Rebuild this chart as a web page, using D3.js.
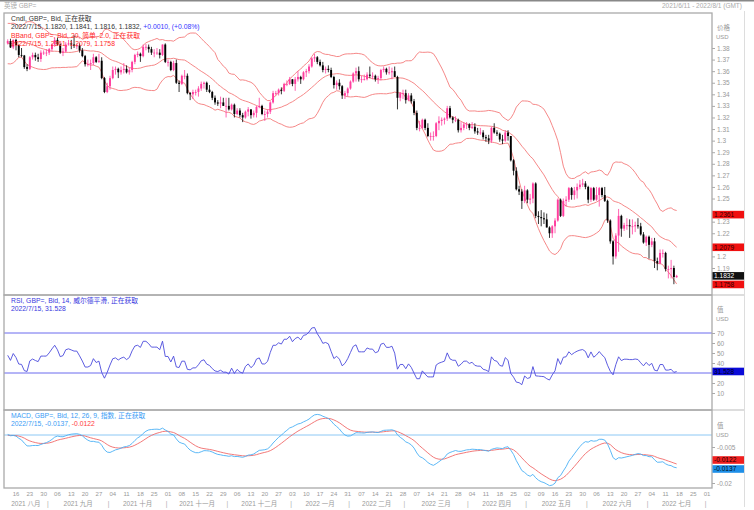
<!DOCTYPE html>
<html><head><meta charset="utf-8">
<script src="https://cdn.jsdelivr.net/npm/d3@7"></script>
<style>
body{margin:0;background:#fff;}
svg{display:block;font-family:"Liberation Sans","Noto Sans CJK SC",sans-serif;}
</style></head><body>
<svg id="chart" width="754" height="510"></svg>
<script>
// ---------------- DATA ----------------
// Daily GBP= bid candles [date, open, high, low, close]; data loaded from 2021/6/11, window shown from 2021/8/11
const ohlc = [
["2021-06-11",1.4180,1.4190,1.4075,1.4110],["2021-06-14",1.4110,1.4135,1.4070,1.4110],["2021-06-15",1.4110,1.4135,1.4060,1.4090],
["2021-06-16",1.4090,1.4120,1.4000,1.4010],["2021-06-17",1.4010,1.4010,1.3905,1.3920],["2021-06-18",1.3920,1.3940,1.3790,1.3800],
["2021-06-21",1.3800,1.3920,1.3785,1.3910],["2021-06-22",1.3910,1.3960,1.3870,1.3930],["2021-06-23",1.3930,1.3975,1.3910,1.3960],
["2021-06-24",1.3960,1.3990,1.3880,1.3890],["2021-06-25",1.3890,1.3910,1.3860,1.3880],["2021-06-28",1.3880,1.3940,1.3870,1.3880],
["2021-06-29",1.3880,1.3900,1.3820,1.3830],["2021-06-30",1.3830,1.3850,1.3790,1.3830],
["2021-07-01",1.3830,1.3840,1.3760,1.3765],["2021-07-02",1.3765,1.3850,1.3730,1.3830],["2021-07-05",1.3830,1.3890,1.3820,1.3840],
["2021-07-06",1.3840,1.3910,1.3760,1.3800],["2021-07-07",1.3800,1.3840,1.3770,1.3795],["2021-07-08",1.3795,1.3820,1.3730,1.3780],
["2021-07-09",1.3780,1.3900,1.3770,1.3890],["2021-07-12",1.3890,1.3900,1.3830,1.3860],["2021-07-13",1.3860,1.3910,1.3790,1.3800],
["2021-07-14",1.3800,1.3880,1.3790,1.3840],["2021-07-15",1.3840,1.3860,1.3790,1.3830],["2021-07-16",1.3830,1.3840,1.3750,1.3760],
["2021-07-19",1.3760,1.3770,1.3660,1.3690],["2021-07-20",1.3690,1.3700,1.3570,1.3640],["2021-07-21",1.3640,1.3740,1.3600,1.3730],
["2021-07-22",1.3730,1.3790,1.3720,1.3760],["2021-07-23",1.3760,1.3780,1.3730,1.3750],["2021-07-26",1.3750,1.3840,1.3730,1.3830],
["2021-07-27",1.3830,1.3900,1.3810,1.3890],["2021-07-28",1.3890,1.3960,1.3840,1.3950],["2021-07-29",1.3950,1.3985,1.3920,1.3960],
["2021-07-30",1.3960,1.3980,1.3890,1.3900],
["2021-08-02",1.3900,1.3930,1.3870,1.3890],["2021-08-03",1.3890,1.3930,1.3860,1.3920],["2021-08-04",1.3920,1.3960,1.3880,1.3930],
["2021-08-05",1.3930,1.3950,1.3880,1.3910],["2021-08-06",1.3910,1.3920,1.3860,1.3870],["2021-08-09",1.3870,1.3890,1.3840,1.3860],
["2021-08-10",1.3860,1.3870,1.3810,1.3840],["2021-08-11",1.3840,1.3875,1.3830,1.3860],["2021-08-12",1.3860,1.3880,1.3800,1.3805],
["2021-08-13",1.3805,1.3875,1.3790,1.3870],["2021-08-16",1.3870,1.3880,1.3780,1.3825],["2021-08-17",1.3825,1.3830,1.3720,1.3740],
["2021-08-18",1.3740,1.3800,1.3720,1.3735],["2021-08-19",1.3735,1.3740,1.3620,1.3635],["2021-08-20",1.3635,1.3660,1.3600,1.3620],
["2021-08-23",1.3620,1.3730,1.3610,1.3720],["2021-08-24",1.3720,1.3760,1.3700,1.3740],["2021-08-25",1.3740,1.3760,1.3690,1.3720],
["2021-08-26",1.3720,1.3750,1.3680,1.3705],["2021-08-27",1.3705,1.3780,1.3680,1.3760],["2021-08-30",1.3760,1.3780,1.3740,1.3760],
["2021-08-31",1.3760,1.3790,1.3730,1.3760],
["2021-09-01",1.3760,1.3800,1.3740,1.3790],["2021-09-02",1.3790,1.3840,1.3770,1.3830],["2021-09-03",1.3830,1.3890,1.3810,1.3870],
["2021-09-06",1.3870,1.3890,1.3820,1.3830],["2021-09-07",1.3830,1.3840,1.3750,1.3760],["2021-09-08",1.3760,1.3800,1.3730,1.3770],
["2021-09-09",1.3770,1.3850,1.3760,1.3830],["2021-09-10",1.3830,1.3870,1.3820,1.3840],["2021-09-13",1.3840,1.3870,1.3790,1.3830],
["2021-09-14",1.3830,1.3910,1.3800,1.3820],["2021-09-15",1.3820,1.3840,1.3790,1.3820],["2021-09-16",1.3820,1.3840,1.3760,1.3780],
["2021-09-17",1.3780,1.3800,1.3720,1.3730],["2021-09-20",1.3730,1.3740,1.3640,1.3660],["2021-09-21",1.3660,1.3700,1.3640,1.3660],
["2021-09-22",1.3660,1.3700,1.3610,1.3670],["2021-09-23",1.3670,1.3750,1.3650,1.3720],["2021-09-24",1.3720,1.3730,1.3670,1.3680],
["2021-09-27",1.3680,1.3750,1.3670,1.3690],["2021-09-28",1.3690,1.3720,1.3530,1.3540],["2021-09-29",1.3540,1.3550,1.3410,1.3420],
["2021-09-30",1.3420,1.3500,1.3410,1.3470],
["2021-10-01",1.3470,1.3560,1.3440,1.3540],["2021-10-04",1.3540,1.3640,1.3530,1.3610],["2021-10-05",1.3610,1.3640,1.3570,1.3620],
["2021-10-06",1.3620,1.3630,1.3540,1.3590],["2021-10-07",1.3590,1.3640,1.3570,1.3610],["2021-10-08",1.3610,1.3670,1.3580,1.3620],
["2021-10-11",1.3620,1.3650,1.3580,1.3590],["2021-10-12",1.3590,1.3630,1.3570,1.3610],["2021-10-13",1.3610,1.3690,1.3590,1.3680],
["2021-10-14",1.3680,1.3750,1.3660,1.3740],["2021-10-15",1.3740,1.3770,1.3720,1.3750],["2021-10-18",1.3750,1.3760,1.3680,1.3730],
["2021-10-19",1.3730,1.3830,1.3720,1.3810],["2021-10-20",1.3810,1.3835,1.3780,1.3810],["2021-10-21",1.3810,1.3830,1.3760,1.3790],
["2021-10-22",1.3790,1.3810,1.3740,1.3760],["2021-10-25",1.3760,1.3790,1.3720,1.3760],["2021-10-26",1.3760,1.3800,1.3740,1.3760],
["2021-10-27",1.3760,1.3790,1.3710,1.3740],["2021-10-28",1.3740,1.3830,1.3730,1.3830],["2021-10-29",1.3830,1.3840,1.3670,1.3680],
["2021-11-01",1.3680,1.3700,1.3640,1.3680],["2021-11-02",1.3680,1.3690,1.3600,1.3610],["2021-11-03",1.3610,1.3690,1.3600,1.3670],
["2021-11-04",1.3670,1.3700,1.3490,1.3500],["2021-11-05",1.3500,1.3520,1.3420,1.3490],["2021-11-08",1.3490,1.3570,1.3480,1.3560],
["2021-11-09",1.3560,1.3610,1.3530,1.3560],["2021-11-10",1.3560,1.3580,1.3400,1.3410],["2021-11-11",1.3410,1.3420,1.3350,1.3400],
["2021-11-12",1.3400,1.3440,1.3360,1.3420],["2021-11-15",1.3420,1.3440,1.3390,1.3420],["2021-11-16",1.3420,1.3470,1.3380,1.3450],
["2021-11-17",1.3450,1.3510,1.3430,1.3490],["2021-11-18",1.3490,1.3510,1.3450,1.3500],["2021-11-19",1.3500,1.3510,1.3420,1.3440],
["2021-11-22",1.3440,1.3480,1.3410,1.3420],["2021-11-23",1.3420,1.3430,1.3350,1.3370],["2021-11-24",1.3370,1.3390,1.3310,1.3330],
["2021-11-25",1.3330,1.3350,1.3300,1.3320],["2021-11-26",1.3320,1.3380,1.3280,1.3330],["2021-11-29",1.3330,1.3370,1.3300,1.3300],
["2021-11-30",1.3300,1.3370,1.3200,1.3300],
["2021-12-01",1.3300,1.3370,1.3260,1.3270],["2021-12-02",1.3270,1.3320,1.3260,1.3310],["2021-12-03",1.3310,1.3320,1.3200,1.3230],
["2021-12-06",1.3230,1.3280,1.3220,1.3260],["2021-12-07",1.3260,1.3280,1.3200,1.3220],["2021-12-08",1.3220,1.3240,1.3160,1.3200],
["2021-12-09",1.3200,1.3260,1.3190,1.3250],["2021-12-10",1.3250,1.3290,1.3210,1.3270],["2021-12-13",1.3270,1.3270,1.3190,1.3220],
["2021-12-14",1.3220,1.3260,1.3200,1.3240],["2021-12-15",1.3240,1.3300,1.3200,1.3290],["2021-12-16",1.3290,1.3370,1.3280,1.3300],
["2021-12-17",1.3300,1.3310,1.3220,1.3230],["2021-12-20",1.3230,1.3260,1.3170,1.3230],["2021-12-21",1.3230,1.3270,1.3200,1.3250],
["2021-12-22",1.3250,1.3340,1.3230,1.3330],["2021-12-23",1.3330,1.3430,1.3320,1.3410],["2021-12-24",1.3410,1.3430,1.3390,1.3410],
["2021-12-27",1.3410,1.3450,1.3390,1.3440],["2021-12-28",1.3440,1.3460,1.3400,1.3430],["2021-12-29",1.3430,1.3500,1.3420,1.3490],
["2021-12-30",1.3490,1.3520,1.3470,1.3490],["2021-12-31",1.3490,1.3550,1.3480,1.3530],
["2022-01-03",1.3530,1.3530,1.3470,1.3490],["2022-01-04",1.3490,1.3550,1.3430,1.3530],["2022-01-05",1.3530,1.3600,1.3510,1.3550],
["2022-01-06",1.3550,1.3560,1.3490,1.3530],["2022-01-07",1.3530,1.3600,1.3520,1.3590],["2022-01-10",1.3590,1.3620,1.3550,1.3600],
["2022-01-11",1.3600,1.3660,1.3580,1.3640],["2022-01-12",1.3640,1.3720,1.3630,1.3710],["2022-01-13",1.3710,1.3750,1.3680,1.3720],
["2022-01-14",1.3720,1.3730,1.3660,1.3680],["2022-01-17",1.3680,1.3700,1.3640,1.3650],["2022-01-18",1.3650,1.3680,1.3590,1.3610],
["2022-01-19",1.3610,1.3640,1.3580,1.3620],["2022-01-20",1.3620,1.3650,1.3590,1.3610],["2022-01-21",1.3610,1.3630,1.3540,1.3550],
["2022-01-24",1.3550,1.3560,1.3450,1.3480],["2022-01-25",1.3480,1.3520,1.3440,1.3500],["2022-01-26",1.3500,1.3530,1.3440,1.3470],
["2022-01-27",1.3470,1.3480,1.3360,1.3390],["2022-01-28",1.3390,1.3430,1.3360,1.3410],["2022-01-31",1.3410,1.3460,1.3380,1.3450],
["2022-02-01",1.3450,1.3520,1.3440,1.3510],["2022-02-02",1.3510,1.3590,1.3500,1.3580],["2022-02-03",1.3580,1.3630,1.3510,1.3600],
["2022-02-04",1.3600,1.3640,1.3510,1.3530],["2022-02-07",1.3530,1.3560,1.3500,1.3530],["2022-02-08",1.3530,1.3570,1.3520,1.3530],
["2022-02-09",1.3530,1.3590,1.3520,1.3570],["2022-02-10",1.3570,1.3640,1.3540,1.3560],["2022-02-11",1.3560,1.3590,1.3530,1.3560],
["2022-02-14",1.3560,1.3570,1.3510,1.3530],["2022-02-15",1.3530,1.3560,1.3490,1.3540],["2022-02-16",1.3540,1.3620,1.3520,1.3610],
["2022-02-17",1.3610,1.3640,1.3590,1.3620],["2022-02-18",1.3620,1.3630,1.3570,1.3590],["2022-02-21",1.3590,1.3640,1.3570,1.3590],
["2022-02-22",1.3590,1.3630,1.3530,1.3600],["2022-02-23",1.3600,1.3640,1.3550,1.3550],["2022-02-24",1.3550,1.3560,1.3270,1.3370],
["2022-02-25",1.3370,1.3420,1.3340,1.3410],["2022-02-28",1.3410,1.3440,1.3360,1.3410],
["2022-03-01",1.3410,1.3440,1.3320,1.3350],["2022-03-02",1.3350,1.3410,1.3340,1.3390],["2022-03-03",1.3390,1.3410,1.3320,1.3340],
["2022-03-04",1.3340,1.3360,1.3220,1.3240],["2022-03-07",1.3240,1.3260,1.3090,1.3110],["2022-03-08",1.3110,1.3170,1.3080,1.3110],
["2022-03-09",1.3110,1.3190,1.3100,1.3180],["2022-03-10",1.3180,1.3190,1.3090,1.3110],["2022-03-11",1.3110,1.3150,1.3030,1.3040],
["2022-03-14",1.3040,1.3070,1.3000,1.3040],["2022-03-15",1.3040,1.3080,1.3000,1.3040],["2022-03-16",1.3040,1.3160,1.3030,1.3150],
["2022-03-17",1.3150,1.3210,1.3090,1.3170],["2022-03-18",1.3170,1.3200,1.3130,1.3180],["2022-03-21",1.3180,1.3200,1.3140,1.3190],
["2022-03-22",1.3190,1.3300,1.3170,1.3280],["2022-03-23",1.3280,1.3300,1.3190,1.3200],["2022-03-24",1.3200,1.3210,1.3150,1.3180],
["2022-03-25",1.3180,1.3210,1.3160,1.3180],["2022-03-28",1.3180,1.3190,1.3070,1.3090],["2022-03-29",1.3090,1.3160,1.3070,1.3110],
["2022-03-30",1.3110,1.3160,1.3090,1.3140],["2022-03-31",1.3140,1.3160,1.3100,1.3140],
["2022-04-01",1.3140,1.3150,1.3090,1.3110],["2022-04-04",1.3110,1.3160,1.3100,1.3120],["2022-04-05",1.3120,1.3150,1.3060,1.3080],
["2022-04-06",1.3080,1.3110,1.3050,1.3070],["2022-04-07",1.3070,1.3110,1.3050,1.3070],["2022-04-08",1.3070,1.3090,1.3010,1.3030],
["2022-04-11",1.3030,1.3050,1.2990,1.3020],["2022-04-12",1.3020,1.3050,1.2970,1.3000],["2022-04-13",1.3000,1.3120,1.2980,1.3110],
["2022-04-14",1.3110,1.3150,1.3060,1.3070],["2022-04-15",1.3070,1.3090,1.3040,1.3060],["2022-04-18",1.3060,1.3070,1.2990,1.3010],
["2022-04-19",1.3010,1.3050,1.2970,1.3000],["2022-04-20",1.3000,1.3090,1.2990,1.3070],["2022-04-21",1.3070,1.3090,1.3000,1.3040],
["2022-04-22",1.3040,1.3040,1.2820,1.2830],["2022-04-25",1.2830,1.2840,1.2700,1.2740],["2022-04-26",1.2740,1.2770,1.2570,1.2580],
["2022-04-27",1.2580,1.2610,1.2530,1.2560],["2022-04-28",1.2560,1.2580,1.2410,1.2480],["2022-04-29",1.2480,1.2610,1.2460,1.2570],
["2022-05-02",1.2570,1.2580,1.2460,1.2490],["2022-05-03",1.2490,1.2540,1.2450,1.2500],["2022-05-04",1.2500,1.2640,1.2460,1.2630],
["2022-05-05",1.2630,1.2640,1.2330,1.2350],["2022-05-06",1.2350,1.2390,1.2280,1.2340],["2022-05-09",1.2340,1.2400,1.2260,1.2330],
["2022-05-10",1.2330,1.2380,1.2280,1.2320],["2022-05-11",1.2320,1.2370,1.2250,1.2250],["2022-05-12",1.2250,1.2260,1.2160,1.2200],
["2022-05-13",1.2200,1.2270,1.2160,1.2260],["2022-05-16",1.2260,1.2330,1.2200,1.2310],["2022-05-17",1.2310,1.2500,1.2300,1.2490],
["2022-05-18",1.2490,1.2500,1.2340,1.2350],["2022-05-19",1.2350,1.2500,1.2340,1.2480],["2022-05-20",1.2480,1.2520,1.2430,1.2490],
["2022-05-23",1.2490,1.2600,1.2470,1.2590],["2022-05-24",1.2590,1.2600,1.2490,1.2530],["2022-05-25",1.2530,1.2600,1.2490,1.2570],
["2022-05-26",1.2570,1.2630,1.2500,1.2600],["2022-05-27",1.2600,1.2660,1.2580,1.2620],["2022-05-30",1.2620,1.2670,1.2600,1.2630],
["2022-05-31",1.2630,1.2650,1.2580,1.2600],
["2022-06-01",1.2600,1.2610,1.2460,1.2490],["2022-06-02",1.2490,1.2600,1.2470,1.2590],["2022-06-03",1.2590,1.2600,1.2480,1.2490],
["2022-06-06",1.2490,1.2600,1.2480,1.2530],["2022-06-07",1.2530,1.2600,1.2430,1.2590],["2022-06-08",1.2590,1.2600,1.2510,1.2530],
["2022-06-09",1.2530,1.2600,1.2470,1.2480],["2022-06-10",1.2480,1.2490,1.2290,1.2310],["2022-06-13",1.2310,1.2320,1.2110,1.2130],
["2022-06-14",1.2130,1.2140,1.1930,1.2000],["2022-06-15",1.2000,1.2200,1.1980,1.2180],["2022-06-16",1.2180,1.2410,1.2040,1.2350],
["2022-06-17",1.2350,1.2360,1.2170,1.2240],["2022-06-20",1.2240,1.2290,1.2220,1.2270],["2022-06-21",1.2270,1.2330,1.2230,1.2270],
["2022-06-22",1.2270,1.2320,1.2160,1.2260],["2022-06-23",1.2260,1.2320,1.2190,1.2260],["2022-06-24",1.2260,1.2300,1.2210,1.2270],
["2022-06-27",1.2270,1.2330,1.2240,1.2260],["2022-06-28",1.2260,1.2290,1.2180,1.2190],["2022-06-29",1.2190,1.2210,1.2110,1.2120],
["2022-06-30",1.2120,1.2180,1.2090,1.2170],
["2022-07-01",1.2170,1.2180,1.1980,1.2100],["2022-07-04",1.2100,1.2160,1.2080,1.2130],["2022-07-05",1.2130,1.2160,1.1900,1.1960],
["2022-07-06",1.1960,1.1990,1.1880,1.1940],["2022-07-07",1.1940,1.2060,1.1930,1.2030],["2022-07-08",1.2030,1.2060,1.1990,1.2030],
["2022-07-11",1.2030,1.2040,1.1870,1.1890],["2022-07-12",1.1890,1.1920,1.1810,1.1890],["2022-07-13",1.1890,1.1970,1.1810,1.1900],
["2022-07-14",1.1900,1.1920,1.1760,1.1822],["2022-07-15",1.1820,1.1841,1.1816,1.1832]
];
const viewStart = "2021-08-11", viewEnd = "2022-08-02";
const priceTicks = [1.19,1.2,1.22,1.23,1.25,1.26,1.27,1.28,1.29,1.3,1.31,1.32,1.33,1.34,1.35,1.36,1.37,1.38];
const rsiTicks = [10,20,40,50,60,70];
const rsiLevels = [70,30];
const macdTicks = [-0.02,-0.005];
const monthLabels = ["2021 八月","2021 九月","2021 十月","2021 十一月","2021 十二月","2022 一月","2022 二月","2022 三月","2022 四月","2022 五月","2022 六月","2022 七月"];
const priceBoxes = [{t:"1.2361",v:1.2361,bg:"#f01010",fg:"#300"},{t:"1.2079",v:1.2079,bg:"#f01010",fg:"#300"},{t:"1.1832",v:1.1832,bg:"#111",fg:"#fff"},{t:"1.1758",v:1.1758,bg:"#f01010",fg:"#300"}];
const rsiBox = {t:"31.528",v:31.528};
const macdBoxes = [{t:"-0.0122",y:460,bg:"#f02020",fg:"#200"},{t:"-0.0137",y:469,bg:"#1e8fe8",fg:"#012"}];

// ---------------- SETUP ----------------
const svg = d3.select("#chart");
const L = 4, R = 712;
const P = {main:[13,295], rsi:[295,410], macd:[410,488]};
const parse = d3.utcParse("%Y-%m-%d");
const rows = ohlc.map(r => ({d:parse(r[0]), o:r[1], h:r[2], l:r[3], c:r[4]}));
const closes = rows.map(r => r.c);

// Indicators (Bollinger 20/2 simple, RSI 14 Wilder, MACD 12/26/9 exponential)
rows.forEach((r,i) => {
  if (i >= 19) {
    const w = closes.slice(i-19, i+1), m = d3.mean(w);
    const sd = Math.sqrt(d3.mean(w, v => (v-m)*(v-m)));
    r.bm = m; r.bu = m + 2*sd; r.bl = m - 2*sd;
  }
});
let ag = 0, al = 0;
for (let i = 1; i < rows.length; i++) {
  const ch = closes[i] - closes[i-1], g = Math.max(ch,0), ls = Math.max(-ch,0);
  if (i <= 14) { ag += g/14; al += ls/14; if (i === 14) rows[i].rsi = 100 - 100/(1 + ag/al); }
  else { ag = (ag*13 + g)/14; al = (al*13 + ls)/14; rows[i].rsi = 100 - 100/(1 + ag/al); }
}
function ema(arr, p) { const k = 2/(p+1); let e = arr[0]; return arr.map((v,i) => i === 0 ? e : (e = v*k + e*(1-k))); }
const e12 = ema(closes, 12), e26 = ema(closes, 26);
const macd = closes.map((c,i) => e12[i] - e26[i]);
const sig = ema(macd, 9);
rows.forEach((r,i) => { r.macd = macd[i]; r.sig = sig[i]; });

// X band scale over weekdays of the visible window
const vs = parse(viewStart), ve = parse(viewEnd);
const days = d3.utcDay.range(vs, d3.utcDay.offset(ve, 1)).filter(d => d.getUTCDay() !== 0 && d.getUTCDay() !== 6);
const x = d3.scaleBand().domain(days.map(d => +d)).range([6.33, 711.2]).padding(0);
const xc = d => x(+d) + x.bandwidth()/2;
const vis = rows.filter(r => r.d >= vs);

const yP = d3.scaleLinear().domain([1.38, 1.19]).range([48, 268]);
const yR = d3.scaleLinear().domain([70, 10]).range([333, 393]);
const yM = d3.scaleLinear().domain([0, -0.005]).range([435, 447]);

const fontTick = 6.5;
svg.append("rect").attr("width",754).attr("height",510).attr("fill","#fff");
// top bar
svg.append("line").attr("x1",0).attr("x2",754).attr("y1",0.8).attr("y2",0.8).attr("stroke","#888").attr("stroke-width",1.6);
svg.append("text").attr("x",4).attr("y",8.3).attr("font-size",6.5).attr("fill","#aaa").text("英镑 GBP=");
svg.append("text").attr("x",742).attr("y",8.3).attr("text-anchor","end").attr("font-size",6.5).attr("fill","#aaa").text("2021/6/11 - 2022/8/1 (GMT)");
svg.append("line").attr("x1",744.5).attr("x2",744.5).attr("y1",11).attr("y2",507).attr("stroke","#ddd");

// clip paths
Object.entries(P).forEach(([k,[t,b]]) => {
  svg.append("clipPath").attr("id","clip-"+k).append("rect").attr("x",L).attr("y",t).attr("width",R-L).attr("height",b-t);
});

// ---------------- MAIN PANEL ----------------
const gm = svg.append("g").attr("clip-path","url(#clip-main)");
const bbLine = key => d3.line().defined(r => r[key] != null).x(r => xc(r.d)).y(r => yP(r[key]));
["bu","bm","bl"].forEach(k => gm.append("path").datum(vis).attr("d", bbLine(k)).attr("fill","none").attr("stroke","#f47a7a").attr("stroke-width",0.9));
const up = "#ff3d9e", dn = "#000";
const cg = gm.selectAll("g.c").data(vis).join("g");
cg.append("line").attr("x1", r => xc(r.d)).attr("x2", r => xc(r.d)).attr("y1", r => yP(r.h)).attr("y2", r => yP(r.l))
  .attr("stroke", r => r.c >= r.o ? up : dn).attr("stroke-width",0.8);
cg.append("rect").attr("x", r => xc(r.d)-0.95).attr("width",1.9)
  .attr("y", r => yP(Math.max(r.o,r.c))).attr("height", r => Math.max(0.8, Math.abs(yP(r.o)-yP(r.c))))
  .attr("fill", r => r.c >= r.o ? up : dn);

// ---------------- RSI PANEL ----------------
const gr = svg.append("g").attr("clip-path","url(#clip-rsi)");
rsiLevels.forEach(v => gr.append("line").attr("x1",L).attr("x2",R).attr("y1",yR(v)).attr("y2",yR(v)).attr("stroke","#6a6aee").attr("stroke-width",1));
gr.append("path").datum(vis).attr("fill","none").attr("stroke","#4b4bdc").attr("stroke-width",0.9)
  .attr("d", d3.line().x(r => xc(r.d)).y(r => yR(r.rsi)));

// ---------------- MACD PANEL ----------------
const gd = svg.append("g").attr("clip-path","url(#clip-macd)");
gd.append("line").attr("x1",L).attr("x2",R).attr("y1",yM(0)).attr("y2",yM(0)).attr("stroke","#8cc8f5").attr("stroke-width",1);
gd.append("path").datum(vis).attr("fill","none").attr("stroke","#f06a6a").attr("stroke-width",0.9)
  .attr("d", d3.line().x(r => xc(r.d)).y(r => yM(r.sig)));
gd.append("path").datum(vis).attr("fill","none").attr("stroke","#4ab0f5").attr("stroke-width",0.9)
  .attr("d", d3.line().x(r => xc(r.d)).y(r => yM(r.macd)));

// ---------------- FRAMES ----------------
Object.values(P).forEach(([t,b]) => {
  svg.append("rect").attr("x",L).attr("y",t).attr("width",R-L).attr("height",b-t).attr("fill","none").attr("stroke","#aaa").attr("stroke-width",1.3);
});
[P.main[1], P.rsi[1]].forEach(y => svg.append("line").attr("x1",R).attr("x2",744).attr("y1",y).attr("y2",y).attr("stroke","#bbb"));

// ---------------- AXES ----------------
function styleAxis(g) {
  g.select(".domain").remove();
  g.selectAll(".tick line").attr("stroke","#aaa");
  g.selectAll(".tick text").attr("fill","#999").attr("font-size",fontTick).attr("font-family","Liberation Sans, sans-serif");
}
const fmt2 = d3.format(".2~f");
svg.append("g").attr("transform",`translate(${R},0)`).call(d3.axisRight(yP).tickValues(priceTicks).tickSize(3).tickPadding(2).tickFormat(d => fmt2(d))).call(styleAxis);
svg.append("g").attr("transform",`translate(${R},0)`).call(d3.axisRight(yR).tickValues(rsiTicks).tickSize(3).tickPadding(2)).call(styleAxis);
svg.append("g").attr("transform",`translate(${R},0)`).call(d3.axisRight(yM).tickValues(macdTicks).tickSize(3).tickPadding(2).tickFormat(d => d3.format(".3~f")(d).replace("\u2212","-"))).call(styleAxis);

const axHead = [["价格",28,"USD",37],["值",310,"USD",319],["值",426,"USD",435]];
axHead.forEach(([a,ya,b,yb]) => {
  svg.append("text").attr("x",717).attr("y",ya+2).attr("font-size",6.5).attr("fill","#999").text(a);
  svg.append("text").attr("x",716).attr("y",yb+2).attr("font-size",6).attr("fill","#999").text(b);
});

function box(y, t, bg, fg) {
  svg.append("rect").attr("x",712.5).attr("y",y-3.8).attr("width",31.5).attr("height",7.6).attr("fill",bg);
  svg.append("text").attr("x",714).attr("y",y+2.4).attr("font-size",6.6).attr("fill",fg).attr("font-family","Liberation Sans, sans-serif").text(t);
}
priceBoxes.forEach(b => box(yP(b.v), b.t, b.bg, b.fg));
box(yR(rsiBox.v), rsiBox.t, "#0a0ad8", "#001");
macdBoxes.forEach(b => box(b.y, b.t, b.bg, b.fg));

// X axis
const mondays = days.filter(d => d.getUTCDay() === 1 && d >= d3.utcDay.offset(vs,5));
const xa = svg.append("g").attr("transform",`translate(0,${P.macd[1]})`)
  .call(d3.axisBottom(x).tickValues(mondays.map(d => +d)).tickSize(0).tickPadding(4).tickFormat(v => d3.utcFormat("%d")(new Date(v))));
xa.select(".domain").remove();
xa.selectAll("text").attr("fill","#999").attr("font-size",6).attr("font-family","Liberation Sans, sans-serif");

const monthStarts = days.filter((d,i) => i > 0 && d.getUTCMonth() !== days[i-1].getUTCMonth());
const seps = monthStarts.map(d => x(+d));
seps.forEach(sx => svg.append("text").attr("x",sx).attr("y",506).attr("text-anchor","middle").attr("font-size",6.5).attr("fill","#aaa").text("|"));
monthLabels.forEach((t,i) => {
  const a = i === 0 ? L : seps[i-1], b = seps[i];
  svg.append("text").attr("x",(a+b)/2).attr("y",506).attr("text-anchor","middle").attr("font-size",6.5).attr("fill","#999").text(t);
});

// ---------------- LEGENDS ----------------
function legend(y, parts) {
  const t = svg.append("text").attr("x",11).attr("y",y).attr("font-size",6.8);
  parts.forEach(([s,c]) => t.append("tspan").attr("fill",c).text(s));
}
legend(20.8, [["Cndl, GBP=, Bid, 正在获取","#333"]]);
legend(29.2, [["2022/7/15, 1.1820, 1.1841, 1.1816, 1.1832, ","#333"],["+0.0010, (+0.08%)","#3535ff"]]);
legend(37.6, [["BBand, GBP=, Bid, 20, 简单, 2.0, 正在获取","#ff2a2a"]]);
legend(46.0, [["2022/7/15, 1.2361, 1.2079, 1.1758","#ff2a2a"]]);
legend(303.2, [["RSI, GBP=, Bid, 14, 威尔德平滑, 正在获取","#3838e0"]]);
legend(311.2, [["2022/7/15, 31.528","#3838e0"]]);
legend(417.8, [["MACD, GBP=, Bid, 12, 26, 9, 指数, 正在获取","#3a9cf5"]]);
legend(426.4, [["2022/7/15, -0.0137, ","#3a9cf5"],["-0.0122","#ff3a3a"]]);
</script>
</body></html>
